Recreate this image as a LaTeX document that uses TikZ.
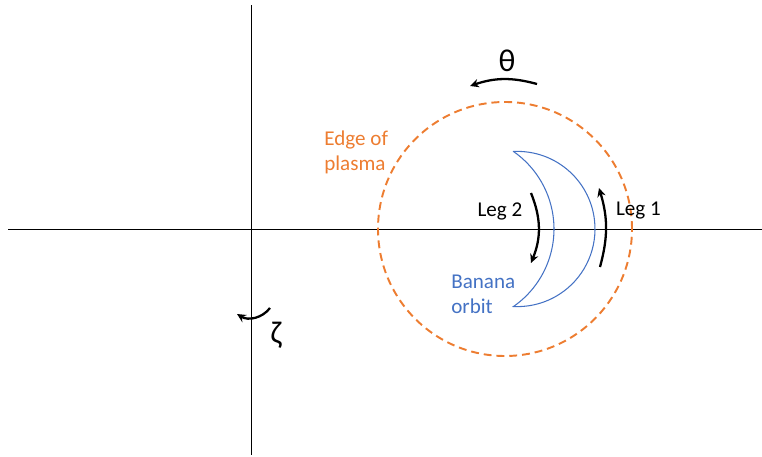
\documentclass[tikz,border=0pt]{standalone}
\usepackage{fontspec}
\setmainfont{Carlito}
\usepackage{tikz}
\usetikzlibrary{arrows.meta}
\definecolor{plasmaorange}{HTML}{ED7D31}
\definecolor{orbitblue}{HTML}{4472C4}

\begin{document}
\begin{tikzpicture}[x=0.02cm, y=0.02cm,
    axisline/.style={black, line width=0.55pt},
    legarrow/.style={-{Stealth[length=5pt,width=4.8pt]}, line width=1.3pt},
    txt/.style={font=\fontsize{12}{14.2}\selectfont, inner sep=0pt},
    greek/.style={font=\fontsize{18}{21}\selectfont, inner sep=0pt}]
    \useasboundingbox (0,0) rectangle (762,457);
    % ejes
    \draw[axisline] (8,228) -- (762,228);
    \draw[axisline] (251,2) -- (251,452);

    % borde del plasma
    \draw[plasmaorange, line width=1.1pt, dash pattern=on 4.5pt off 2.8pt] (505,228) circle[radius=127];
    \node[txt, text=plasmaorange, align=left, anchor=west] (edge) at (324,304.5) {Edge of\\plasma};

    % orbita banana: dos arcos entre las puntas
    \coordinate (tiptop) at (513.5,305.5);
    \draw[orbitblue, line width=0.6pt] (tiptop)
        arc[start angle=92.88, end angle=-92.88, radius=77.6]
        arc[start angle=-55.18, end angle=55.18, radius=94.4] -- cycle;
    \node[txt, text=orbitblue, align=left, anchor=west] (banana) at (451,162.5) {Banana\\orbit};

    % piernas de la orbita
    \draw[legarrow] (600,190) to[bend right=16] (599,269);
    \node[txt, anchor=base] (leg1) at (638.5,241) {Leg 1};
    \draw[legarrow] (531,264) to[bend left=22] (531,194);
    \node[txt, anchor=base] (leg2) at (500,240) {Leg 2};

    % sentidos poloidal y toroidal
    \draw[legarrow] (537,373) to[bend right=17] (470,371);
    \node[greek] (theta) at (507,396) {θ};
    \draw[legarrow] (270,149) to[bend left=42] (237,143);
    \node[greek] (zeta) at (276,122) {ζ};
\end{tikzpicture}
\end{document}
